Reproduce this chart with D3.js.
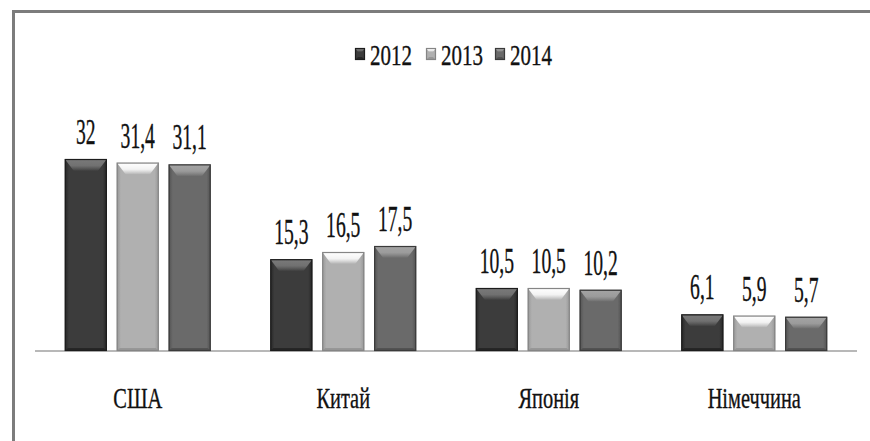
<!DOCTYPE html>
<html>
<head>
<meta charset="utf-8">
<script src="https://cdn.jsdelivr.net/npm/d3@7"></script>
<style>
  html, body { margin: 0; padding: 0; background: #fff; }
  svg { display: block; }
</style>
</head>
<body>
<div id="chart"></div>
<script>
;(function() {
  'use strict';
  var categories = ['США', 'Китай', 'Японія', 'Німеччина'],
      years = ['2012', '2013', '2014'],
      values2012 = [32, 15.3, 10.5, 6.1],
      values2013 = [31.4, 16.5, 10.5, 5.9],
      values2014 = [31.1, 17.5, 10.2, 5.7];

  var seriesValues = [values2012, values2013, values2014];

  var fontFamily = 'Liberation Serif';

  // body / bevel colours per year
  var palette = [
    {body: '#3c3c3c', light: '#7a7a7a', dark: '#262626', edge: '#1c1c1c'},
    {body: '#b0b0b0', light: '#ffffff', dark: '#979797', edge: '#858585'},
    {body: '#6a6a6a', light: '#a4a4a4', dark: '#525252', edge: '#3a3a3a'}
  ];

  var width = 870,
      height = 441,
      baseY = 351;

  var svg = d3.select('#chart').append('svg')
    .attr('width', width)
    .attr('height', height);

  var defs = svg.append('defs');
  palette.forEach(function(c, i) {
    var g = defs.append('linearGradient')
      .attr('id', 'body' + i)
      .attr('x1', 0).attr('x2', 1).attr('y1', 0).attr('y2', 0);
    g.append('stop').attr('offset', '0%').attr('stop-color', c.dark);
    g.append('stop').attr('offset', '10%').attr('stop-color', c.body);
    g.append('stop').attr('offset', '90%').attr('stop-color', c.body);
    g.append('stop').attr('offset', '100%').attr('stop-color', c.dark);

    var t = defs.append('linearGradient')
      .attr('id', 'top' + i)
      .attr('x1', 0).attr('x2', 0).attr('y1', 0).attr('y2', 1);
    t.append('stop').attr('offset', '0%').attr('stop-color', c.light);
    t.append('stop').attr('offset', '55%').attr('stop-color', c.light).attr('stop-opacity', 0.85);
    t.append('stop').attr('offset', '100%').attr('stop-color', c.body);
  });

  var x0 = d3.scaleBand()
    .domain(categories)
    .range([35, 857])
    .paddingInner(0.29)
    .paddingOuter(0.145);

  var x1 = d3.scaleBand()
    .domain(years)
    .range([0, x0.bandwidth()])
    .paddingInner(0.19)
    .paddingOuter(0);

  var y = d3.scaleLinear()
    .domain([0, 40])
    .range([baseY, baseY - 240]);

  // frame
  svg.append('path')
    .attr('d', 'M13.5,441 V11.5 H870')
    .attr('fill', 'none')
    .attr('stroke', '#7c7c7c')
    .attr('stroke-width', 3);

  // category axis line
  svg.append('line')
    .attr('x1', 35).attr('x2', 857)
    .attr('y1', baseY).attr('y2', baseY)
    .attr('stroke', '#b8b8b8')
    .attr('stroke-width', 2);

  function squeezedText(parent, tx, ty, str, size, sx, anchor) {
    parent.append('g')
      .attr('transform', 'translate(' + tx + ',' + ty + ') scale(' + sx + ',1)')
      .append('text')
      .attr('text-anchor', anchor || 'middle')
      .attr('font-family', fontFamily)
      .attr('font-size', size)
      .attr('fill', '#111')
      .attr('stroke', '#111')
      .attr('stroke-width', 0.35)
      .text(str);
  }

  function bevelBar(parent, bx, by, bw, bh, i, bevel, inset) {
    var c = palette[i],
        b = Math.min(bevel, bh / 2);
    var g = parent.append('g');
    g.append('rect')
      .attr('x', bx).attr('y', by)
      .attr('width', bw).attr('height', bh)
      .attr('fill', 'url(#body' + i + ')');
    // lit top facet
    g.append('path')
      .attr('d', 'M' + bx + ',' + by + 'H' + (bx + bw) +
        'L' + (bx + bw - inset) + ',' + (by + b) +
        'H' + (bx + inset) + 'Z')
      .attr('fill', 'url(#top' + i + ')');
    // shaded bottom facet
    g.append('path')
      .attr('d', 'M' + bx + ',' + (by + bh) + 'H' + (bx + bw) +
        'L' + (bx + bw - 3) + ',' + (by + bh - 3) +
        'H' + (bx + 3) + 'Z')
      .attr('fill', c.dark);
    g.append('rect')
      .attr('x', bx + 0.5).attr('y', by + 0.5)
      .attr('width', bw - 1).attr('height', bh - 1)
      .attr('fill', 'none')
      .attr('stroke', c.edge)
      .attr('stroke-width', 1.2);
  }

  var groups = svg.selectAll('g.group')
    .data(categories)
    .enter().append('g')
    .attr('class', 'group')
    .attr('transform', function(d) { return 'translate(' + x0(d) + ',0)'; });

  groups.each(function(cat, ci) {
    var grp = d3.select(this);
    years.forEach(function(yr, si) {
      var v = seriesValues[si][ci],
          bx = x1(yr),
          by = y(v);
      bevelBar(grp, bx, by, x1.bandwidth(), baseY - by, si, 12, 9);
      squeezedText(grp, bx + x1.bandwidth() / 2, by - 15,
        String(v).replace('.', ','), 35, 0.56);
    });
    squeezedText(grp, x0.bandwidth() / 2, 408, cat, 30, 0.68);
  });

  // legend
  var legendX = [355, 426, 495];
  var legend = svg.append('g').attr('class', 'legend');
  years.forEach(function(yr, i) {
    bevelBar(legend, legendX[i], 48, 10, 12, i, 4, 3);
    squeezedText(legend, legendX[i] + 15, 65, yr, 30, 0.7, 'start');
  });
})();
</script>
</body>
</html>
